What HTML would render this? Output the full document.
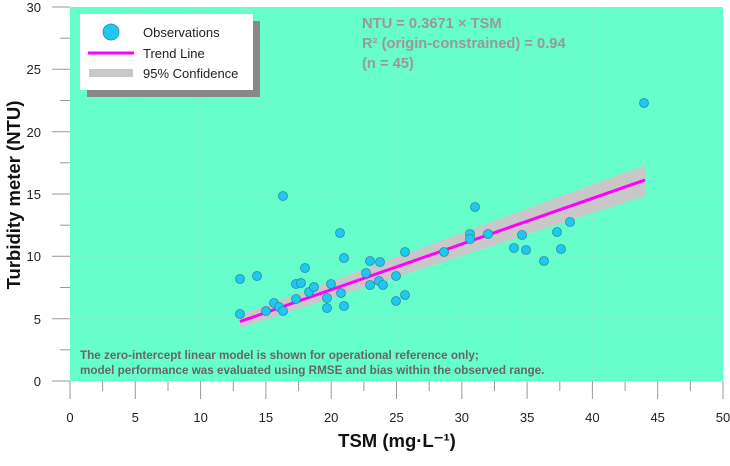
<!DOCTYPE html>
<html><head><meta charset="utf-8"><style>body{margin:0;background:#fff}</style></head><body>
<svg width="730" height="461" xmlns="http://www.w3.org/2000/svg" font-family="Liberation Sans, Arial, sans-serif">
<rect x="70" y="7" width="653" height="374" fill="#66ffcc"/>
<g stroke="#8fe8d0" stroke-dasharray="2,2" stroke-width="1">
<line x1="135.3" y1="7" x2="135.3" y2="381"/><line x1="200.6" y1="7" x2="200.6" y2="381"/><line x1="265.9" y1="7" x2="265.9" y2="381"/><line x1="331.2" y1="7" x2="331.2" y2="381"/><line x1="396.5" y1="7" x2="396.5" y2="381"/><line x1="461.8" y1="7" x2="461.8" y2="381"/><line x1="527.1" y1="7" x2="527.1" y2="381"/><line x1="592.4" y1="7" x2="592.4" y2="381"/><line x1="657.7" y1="7" x2="657.7" y2="381"/>
<line x1="70" y1="318.7" x2="723" y2="318.7"/><line x1="70" y1="256.3" x2="723" y2="256.3"/><line x1="70" y1="194" x2="723" y2="194"/><line x1="70" y1="131.7" x2="723" y2="131.7"/><line x1="70" y1="69.3" x2="723" y2="69.3"/>
</g>
<g stroke="#999" stroke-width="1">
<line x1="52" y1="381" x2="70" y2="381"/><line x1="52" y1="318.7" x2="70" y2="318.7"/><line x1="52" y1="256.3" x2="70" y2="256.3"/><line x1="52" y1="194" x2="70" y2="194"/><line x1="52" y1="131.7" x2="70" y2="131.7"/><line x1="52" y1="69.3" x2="70" y2="69.3"/><line x1="52" y1="7" x2="70" y2="7"/>
<line x1="60" y1="349.8" x2="70" y2="349.8"/><line x1="60" y1="287.5" x2="70" y2="287.5"/><line x1="60" y1="225.2" x2="70" y2="225.2"/><line x1="60" y1="162.8" x2="70" y2="162.8"/><line x1="60" y1="100.5" x2="70" y2="100.5"/><line x1="60" y1="38.2" x2="70" y2="38.2"/>
<line x1="70" y1="381" x2="70" y2="399"/><line x1="135.3" y1="381" x2="135.3" y2="399"/><line x1="200.6" y1="381" x2="200.6" y2="399"/><line x1="265.9" y1="381" x2="265.9" y2="399"/><line x1="331.2" y1="381" x2="331.2" y2="399"/><line x1="396.5" y1="381" x2="396.5" y2="399"/><line x1="461.8" y1="381" x2="461.8" y2="399"/><line x1="527.1" y1="381" x2="527.1" y2="399"/><line x1="592.4" y1="381" x2="592.4" y2="399"/><line x1="657.7" y1="381" x2="657.7" y2="399"/><line x1="723" y1="381" x2="723" y2="399"/>
<line x1="102.6" y1="381" x2="102.6" y2="391"/><line x1="168" y1="381" x2="168" y2="391"/><line x1="233.3" y1="381" x2="233.3" y2="391"/><line x1="298.6" y1="381" x2="298.6" y2="391"/><line x1="363.9" y1="381" x2="363.9" y2="391"/><line x1="429.2" y1="381" x2="429.2" y2="391"/><line x1="494.5" y1="381" x2="494.5" y2="391"/><line x1="559.8" y1="381" x2="559.8" y2="391"/><line x1="625.1" y1="381" x2="625.1" y2="391"/><line x1="690.4" y1="381" x2="690.4" y2="391"/>
</g>
<g font-size="13" fill="#222" text-anchor="end">
<text x="41" y="386">0</text><text x="41" y="324">5</text><text x="41" y="261">10</text><text x="41" y="199">15</text><text x="41" y="137">20</text><text x="41" y="74">25</text><text x="41" y="12">30</text>
</g>
<g font-size="13" fill="#222" text-anchor="middle">
<text x="70" y="422">0</text><text x="135.3" y="422">5</text><text x="200.6" y="422">10</text><text x="265.9" y="422">15</text><text x="331.2" y="422">20</text><text x="396.5" y="422">25</text><text x="461.8" y="422">30</text><text x="527.1" y="422">35</text><text x="592.4" y="422">40</text><text x="657.7" y="422">45</text><text x="723" y="422">50</text>
</g>
<text x="397" y="447" font-size="18.5" font-weight="bold" text-anchor="middle" fill="#111">TSM (mg·L⁻¹)</text>
<text transform="translate(20,195) rotate(-90)" font-size="18.5" font-weight="bold" text-anchor="middle" fill="#111">Turbidity meter (NTU)</text>
<polygon points="240,315 645,165 645,196 240,328" fill="#c8c8c8"/>
<line x1="240" y1="321.6" x2="645" y2="180" stroke="#ff00ff" stroke-width="3"/>
<g fill="#1ec8f0" stroke="#2a8aaa" stroke-width="0.8">
<circle cx="240" cy="279" r="4.5"/><circle cx="240" cy="314" r="4.5"/><circle cx="257" cy="276" r="4.5"/><circle cx="283" cy="196" r="4.5"/><circle cx="266" cy="311" r="4.5"/><circle cx="274" cy="303" r="4.5"/><circle cx="279" cy="307" r="4.5"/><circle cx="283" cy="311" r="4.5"/><circle cx="296" cy="299" r="4.5"/><circle cx="296" cy="284" r="4.5"/><circle cx="301" cy="283" r="4.5"/><circle cx="305" cy="268" r="4.5"/><circle cx="309" cy="292" r="4.5"/><circle cx="314" cy="287" r="4.5"/><circle cx="327" cy="298" r="4.5"/><circle cx="327" cy="308" r="4.5"/><circle cx="331" cy="284" r="4.5"/><circle cx="340" cy="233" r="4.5"/><circle cx="341" cy="293" r="4.5"/><circle cx="344" cy="258" r="4.5"/><circle cx="344" cy="306" r="4.5"/><circle cx="366" cy="273" r="4.5"/><circle cx="370" cy="261" r="4.5"/><circle cx="370" cy="285" r="4.5"/><circle cx="379" cy="281" r="4.5"/><circle cx="380" cy="262" r="4.5"/><circle cx="383" cy="285" r="4.5"/><circle cx="396" cy="276" r="4.5"/><circle cx="396" cy="301" r="4.5"/><circle cx="405" cy="252" r="4.5"/><circle cx="405" cy="295" r="4.5"/><circle cx="444" cy="252" r="4.5"/><circle cx="470" cy="234" r="4.5"/><circle cx="470" cy="239" r="4.5"/><circle cx="475" cy="207" r="4.5"/><circle cx="488" cy="234" r="4.5"/><circle cx="514" cy="248" r="4.5"/><circle cx="522" cy="235" r="4.5"/><circle cx="526" cy="250" r="4.5"/><circle cx="544" cy="261" r="4.5"/><circle cx="557" cy="232" r="4.5"/><circle cx="561" cy="249" r="4.5"/><circle cx="570" cy="222" r="4.5"/><circle cx="644" cy="103" r="4.5"/>
</g>
<rect x="87" y="21" width="173" height="76" fill="#888"/>
<rect x="80" y="14" width="173" height="76" fill="#fff"/>
<circle cx="111" cy="32" r="8" fill="#1ec8f0" stroke="#2a8aaa" stroke-width="0.8"/>
<line x1="88" y1="53" x2="134" y2="53" stroke="#ff00ff" stroke-width="3"/>
<rect x="89" y="69" width="44" height="8" fill="#c8c8c8"/>
<g font-size="13" fill="#222"><text x="143" y="37">Observations</text><text x="143" y="58">Trend Line</text><text x="143" y="78">95% Confidence</text></g>
<g font-size="14.7" font-weight="bold" fill="#999"><text x="362" y="28">NTU = 0.3671 × TSM</text><text x="362" y="48">R² (origin-constrained) = 0.94</text><text x="362" y="68">(n = 45)</text></g>
<g font-size="11.7" font-weight="bold" fill="#666"><text x="80" y="359">The zero-intercept linear model is shown for operational reference only;</text><text x="80" y="374">model performance was evaluated using RMSE and bias within the observed range.</text></g>
</svg>
</body></html>
